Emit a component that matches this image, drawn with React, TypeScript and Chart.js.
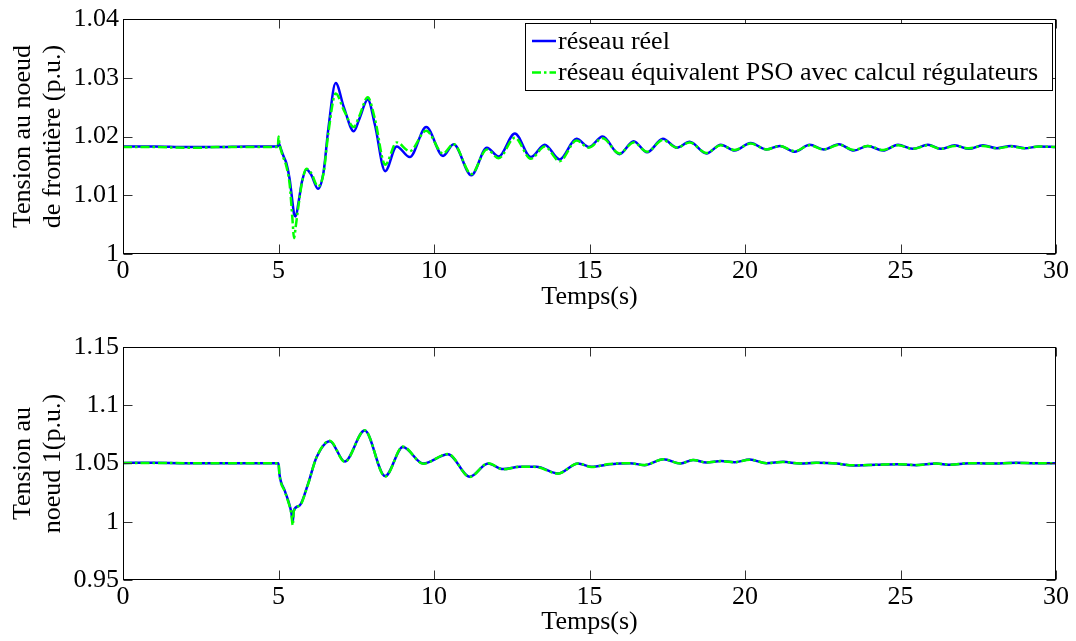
import { useEffect, useRef } from "react";
import { Chart, registerables } from "chart.js";

Chart.register(...registerables);

// ---------- data ----------
const timeTop = [
  0, 1, 2, 2.5, 3, 4, 4.98, 5.0, 5.03, 5.15, 5.25, 5.36, 5.45, 5.5, 5.55, 5.65, 5.75, 5.9, 6.05, 6.27,
  6.45, 6.6, 6.84, 7.1, 7.42, 7.6, 7.87, 8.1, 8.43, 8.8, 9.22, 9.75, 10.29, 10.63, 11.2, 11.7, 12.08,
  12.6, 13.11, 13.56, 14.04, 14.58, 14.98, 15.42, 15.96, 16.42, 16.85, 17.36, 17.81, 18.22, 18.76,
  19.22, 19.67, 20.18, 20.69, 21.12, 21.6, 22.08, 22.53, 23.02, 23.5, 23.95, 24.44, 24.92, 25.4, 25.88,
  26.31, 26.74, 27.2, 27.65, 28.1, 28.55, 29.0, 29.45, 30,
];
const realTop = [
  1.0183, 1.0183, 1.0182, 1.0182, 1.0182, 1.0183, 1.0183, 1.019, 1.0186, 1.0168, 1.0155, 1.0127, 1.0088,
  1.0068, 1.0064, 1.009, 1.0122, 1.0144, 1.0135, 1.0111, 1.014, 1.0212, 1.0291, 1.025, 1.0209, 1.023,
  1.0263, 1.022, 1.0141, 1.0183, 1.0165, 1.0216, 1.0167, 1.0187, 1.0134, 1.0181, 1.0166, 1.0205, 1.0165,
  1.0186, 1.0161, 1.0196, 1.0182, 1.02, 1.017, 1.0192, 1.0173, 1.0196, 1.0181, 1.0191, 1.0171, 1.0186,
  1.0176, 1.0189, 1.0178, 1.0184, 1.0174, 1.0186, 1.0178, 1.0187, 1.0176, 1.0184, 1.0176, 1.0186, 1.0179,
  1.0186, 1.0179, 1.0185, 1.0179, 1.0185, 1.018, 1.0184, 1.018, 1.0183, 1.0182,
];
const psoTop = [
  1.0182, 1.0182, 1.0181, 1.0181, 1.0182, 1.0182, 1.0182, 1.02, 1.0188, 1.0165, 1.015, 1.0118, 1.0058,
  1.0027, 1.0045, 1.0085, 1.012, 1.0145, 1.0138, 1.0115, 1.0138, 1.0205, 1.0273, 1.0245, 1.0216, 1.0235,
  1.0267, 1.023, 1.0152, 1.019, 1.0175, 1.021, 1.0171, 1.0187, 1.0136, 1.0178, 1.0163, 1.0198, 1.0162,
  1.0183, 1.0158, 1.0193, 1.0181, 1.0197, 1.0171, 1.019, 1.0174, 1.0194, 1.0181, 1.019, 1.0172, 1.0185,
  1.0177, 1.0188, 1.0178, 1.0184, 1.0175, 1.0185, 1.0178, 1.0186, 1.0177, 1.0184, 1.0177, 1.0185, 1.0179,
  1.0185, 1.0179, 1.0184, 1.018, 1.0184, 1.018, 1.0183, 1.018, 1.0183, 1.0182,
];

const timeBottom = [
  0, 1, 2, 3, 4, 5.0, 5.03, 5.2, 5.31, 5.41, 5.46, 5.49, 5.68, 5.95, 6.22, 6.65, 7.13, 7.77, 8.43, 9.0,
  9.65, 10.45, 11.15, 11.74, 12.22, 12.76, 13.29, 13.99, 14.63, 15.06, 15.65, 16.29, 16.77, 17.38, 17.93,
  18.33, 18.76, 19.24, 19.67, 20.15, 20.69, 21.22, 21.76, 22.29, 22.94, 23.47, 24.22, 24.92, 25.51, 26.15,
  26.58, 27.22, 27.86, 28.73, 29.26, 30,
];
const realBottom = [
  1.0505, 1.0506, 1.0503, 1.0503, 1.0503, 1.0503, 1.041, 1.0267, 1.0183, 1.0083, 1.0, 1.0095, 1.014,
  1.0325, 1.0551, 1.0692, 1.0517, 1.0783, 1.0392, 1.0642, 1.05, 1.058, 1.0387, 1.05, 1.0452, 1.0472,
  1.0472, 1.0415, 1.05, 1.0472, 1.0494, 1.0503, 1.0486, 1.0537, 1.05, 1.0531, 1.0508, 1.0522, 1.0511,
  1.0534, 1.0503, 1.0514, 1.05, 1.0506, 1.05, 1.0483, 1.0489, 1.0494, 1.0486, 1.05, 1.0489, 1.0503, 1.05,
  1.0506, 1.0503, 1.0503,
];
const psoBottom = [
  1.0505, 1.0505, 1.0503, 1.0503, 1.0503, 1.0503, 1.0405, 1.0262, 1.0175, 1.0072, 0.997, 1.009, 1.0138,
  1.0322, 1.0552, 1.0695, 1.0514, 1.0785, 1.0388, 1.0645, 1.0498, 1.0582, 1.0385, 1.0502, 1.045, 1.0473,
  1.047, 1.0413, 1.0501, 1.047, 1.0495, 1.0502, 1.0487, 1.0536, 1.05, 1.053, 1.0509, 1.0521, 1.0511,
  1.0533, 1.0503, 1.0513, 1.0501, 1.0506, 1.05, 1.0484, 1.0489, 1.0494, 1.0487, 1.05, 1.049, 1.0503, 1.05,
  1.0505, 1.0503, 1.0503,
];

const xTicks = [0, 5, 10, 15, 20, 25, 30];
const xTickLabels = ["0", "5", "10", "15", "20", "25", "30"];
const yTicksTop = [1, 1.01, 1.02, 1.03, 1.04];
const yTickLabelsTop = ["1", "1.01", "1.02", "1.03", "1.04"];
const yTicksBottom = [0.95, 1, 1.05, 1.1, 1.15];
const yTickLabelsBottom = ["0.95", "1", "1.05", "1.1", "1.15"];

const seriesLabels = ["réseau réel", "réseau équivalent PSO avec calcul régulateurs"];
const xTitle = "Temps(s)";
const yTitleTop = ["Tension au noeud", "de frontière (p.u.)"];
const yTitleBottom = ["Tension au", "noeud 1(p.u.)"];

// ---------- styling ----------
const FONT = '"Liberation Serif", "Times New Roman", Times, serif';
const FS = 26;
const BLUE = "#0000ff";
const GREEN = "#00ff00";
const DASHDOT = [9, 3, 2.5, 3];
const TICK_LEN = 9;

const framePlugin = {
  id: "matlabFrame",
  afterDatasetsDraw(chart: any) {
    const { ctx, chartArea: a, scales } = chart;
    ctx.save();
    ctx.setLineDash([]);
    const L = Math.round(a.left) + 0.5;
    const R = Math.round(a.right) - 0.5;
    const T = Math.round(a.top) + 0.5;
    const B = Math.round(a.bottom) - 0.5;
    ctx.strokeStyle = "#333";
    ctx.lineWidth = 1;
    ctx.beginPath();
    for (const t of scales.x.ticks) {
      const px = Math.round(scales.x.getPixelForValue(t.value)) + 0.5;
      ctx.moveTo(px, B);
      ctx.lineTo(px, B - TICK_LEN);
      ctx.moveTo(px, T);
      ctx.lineTo(px, T + TICK_LEN);
    }
    for (const t of scales.y.ticks) {
      const py = Math.round(scales.y.getPixelForValue(t.value)) + 0.5;
      ctx.moveTo(L, py);
      ctx.lineTo(L + TICK_LEN, py);
      ctx.moveTo(R, py);
      ctx.lineTo(R - TICK_LEN, py);
    }
    ctx.stroke();
    ctx.strokeStyle = "#000";
    ctx.strokeRect(L, T, R - L, B - T);
    ctx.restore();
  },
};

const boxLegendPlugin = {
  id: "boxLegend",
  afterDraw(chart: any) {
    const { ctx } = chart;
    const ds = chart.data.datasets;
    const left = 525.5;
    const top = 23.5;
    const bottom = 90.5;
    const sampleX0 = 532;
    const sampleX1 = 556;
    const textX = 558;
    const rowY = [41, 72.5];
    ctx.save();
    ctx.font = `${FS}px ${FONT}`;
    let maxW = 0;
    for (const d of ds) maxW = Math.max(maxW, ctx.measureText(d.label).width);
    const right = Math.max(1052.5, Math.round(textX + maxW + 4) + 0.5);
    ctx.fillStyle = "#fff";
    ctx.fillRect(left, top, right - left, bottom - top);
    ctx.strokeStyle = "#000";
    ctx.lineWidth = 1;
    ctx.setLineDash([]);
    ctx.strokeRect(left, top, right - left, bottom - top);
    ds.forEach((d: any, i: number) => {
      const y = rowY[i];
      ctx.strokeStyle = d.borderColor;
      ctx.lineWidth = d.borderWidth;
      ctx.setLineDash(d.borderDash || []);
      ctx.beginPath();
      ctx.moveTo(sampleX0, y);
      ctx.lineTo(sampleX1, y);
      ctx.stroke();
      ctx.setLineDash([]);
      ctx.fillStyle = "#000";
      ctx.textBaseline = "middle";
      ctx.textAlign = "left";
      ctx.fillText(d.label, textX, y + 1);
    });
    ctx.restore();
  },
};

function makeConfig(p: {
  times: number[];
  real: number[];
  pso: number[];
  yTicks: number[];
  yLabels: string[];
  yTitle: string[];
  padTop: number;
  xHeight: number;
  xTitlePad: number;
  legend: boolean;
}): any {
  const tickFont = { family: FONT, size: FS, lineHeight: 1 };
  return {
    type: "line",
    data: {
      datasets: [
        {
          label: seriesLabels[0],
          data: p.times.map((t, i) => ({ x: t, y: p.real[i] })),
          borderColor: BLUE,
          borderWidth: 2.5,
          order: 1,
        },
        {
          label: seriesLabels[1],
          data: p.times.map((t, i) => ({ x: t, y: p.pso[i] })),
          borderColor: GREEN,
          borderWidth: 2.5,
          borderDash: DASHDOT,
          order: 0,
        },
      ],
    },
    options: {
      animation: false,
      responsive: false,
      maintainAspectRatio: false,
      events: [],
      layout: { padding: { left: 0, right: 20, top: p.padTop, bottom: 0 } },
      elements: {
        point: { radius: 0 },
        line: { tension: 0.4, cubicInterpolationMode: "monotone", fill: false },
      },
      plugins: { legend: { display: false }, tooltip: { enabled: false } },
      scales: {
        x: {
          type: "linear",
          min: xTicks[0],
          max: xTicks[xTicks.length - 1],
          grid: { display: false, drawTicks: false },
          border: { display: false },
          afterBuildTicks: (s: any) => {
            s.ticks = xTicks.map((v) => ({ value: v }));
          },
          afterFit: (s: any) => {
            s.height = p.xHeight;
          },
          ticks: {
            autoSkip: false,
            maxRotation: 0,
            padding: 4,
            color: "#000",
            font: tickFont,
            callback: (_v: any, i: number) => xTickLabels[i],
          },
          title: {
            display: true,
            text: xTitle,
            color: "#000",
            font: { family: FONT, size: FS, lineHeight: 1.2 },
            padding: { top: 0, bottom: p.xTitlePad },
          },
        },
        y: {
          type: "linear",
          min: p.yTicks[0],
          max: p.yTicks[p.yTicks.length - 1],
          grid: { display: false, drawTicks: false },
          border: { display: false },
          afterBuildTicks: (s: any) => {
            s.ticks = p.yTicks.map((v) => ({ value: v }));
          },
          afterFit: (s: any) => {
            s.width = 123;
          },
          ticks: {
            padding: 4,
            color: "#000",
            font: tickFont,
            callback: (_v: any, i: number) => p.yLabels[i],
          },
          title: {
            display: true,
            text: p.yTitle,
            color: "#000",
            font: { family: FONT, size: FS, lineHeight: 1.15 },
            padding: { top: 8, bottom: 0 },
          },
        },
      },
    },
    plugins: p.legend ? [framePlugin, boxLegendPlugin] : [framePlugin],
  };
}

export default function App() {
  const topRef = useRef<HTMLCanvasElement | null>(null);
  const botRef = useRef<HTMLCanvasElement | null>(null);

  useEffect(() => {
    const c1 = new Chart(
      topRef.current as HTMLCanvasElement,
      makeConfig({
        times: timeTop,
        real: realTop,
        pso: psoTop,
        yTicks: yTicksTop,
        yLabels: yTickLabelsTop,
        yTitle: yTitleTop,
        padTop: 19,
        xHeight: 76,
        xTitlePad: 17,
        legend: true,
      })
    );
    const c2 = new Chart(
      botRef.current as HTMLCanvasElement,
      makeConfig({
        times: timeBottom,
        real: realBottom,
        pso: psoBottom,
        yTicks: yTicksBottom,
        yLabels: yTickLabelsBottom,
        yTitle: yTitleBottom,
        padTop: 15,
        xHeight: 61,
        xTitlePad: 3,
        legend: false,
      })
    );
    return () => {
      c1.destroy();
      c2.destroy();
    };
  }, []);

  return (
    <div
      style={{
        position: "absolute",
        left: 0,
        top: 0,
        width: 1076,
        height: 641,
        background: "#fff",
        overflow: "hidden",
      }}
    >
      <canvas
        ref={topRef}
        width={1076}
        height={330}
        style={{ position: "absolute", left: 0, top: 0, width: 1076, height: 330, display: "block" }}
      />
      <canvas
        ref={botRef}
        width={1076}
        height={311}
        style={{ position: "absolute", left: 0, top: 330, width: 1076, height: 311, display: "block" }}
      />
    </div>
  );
}
